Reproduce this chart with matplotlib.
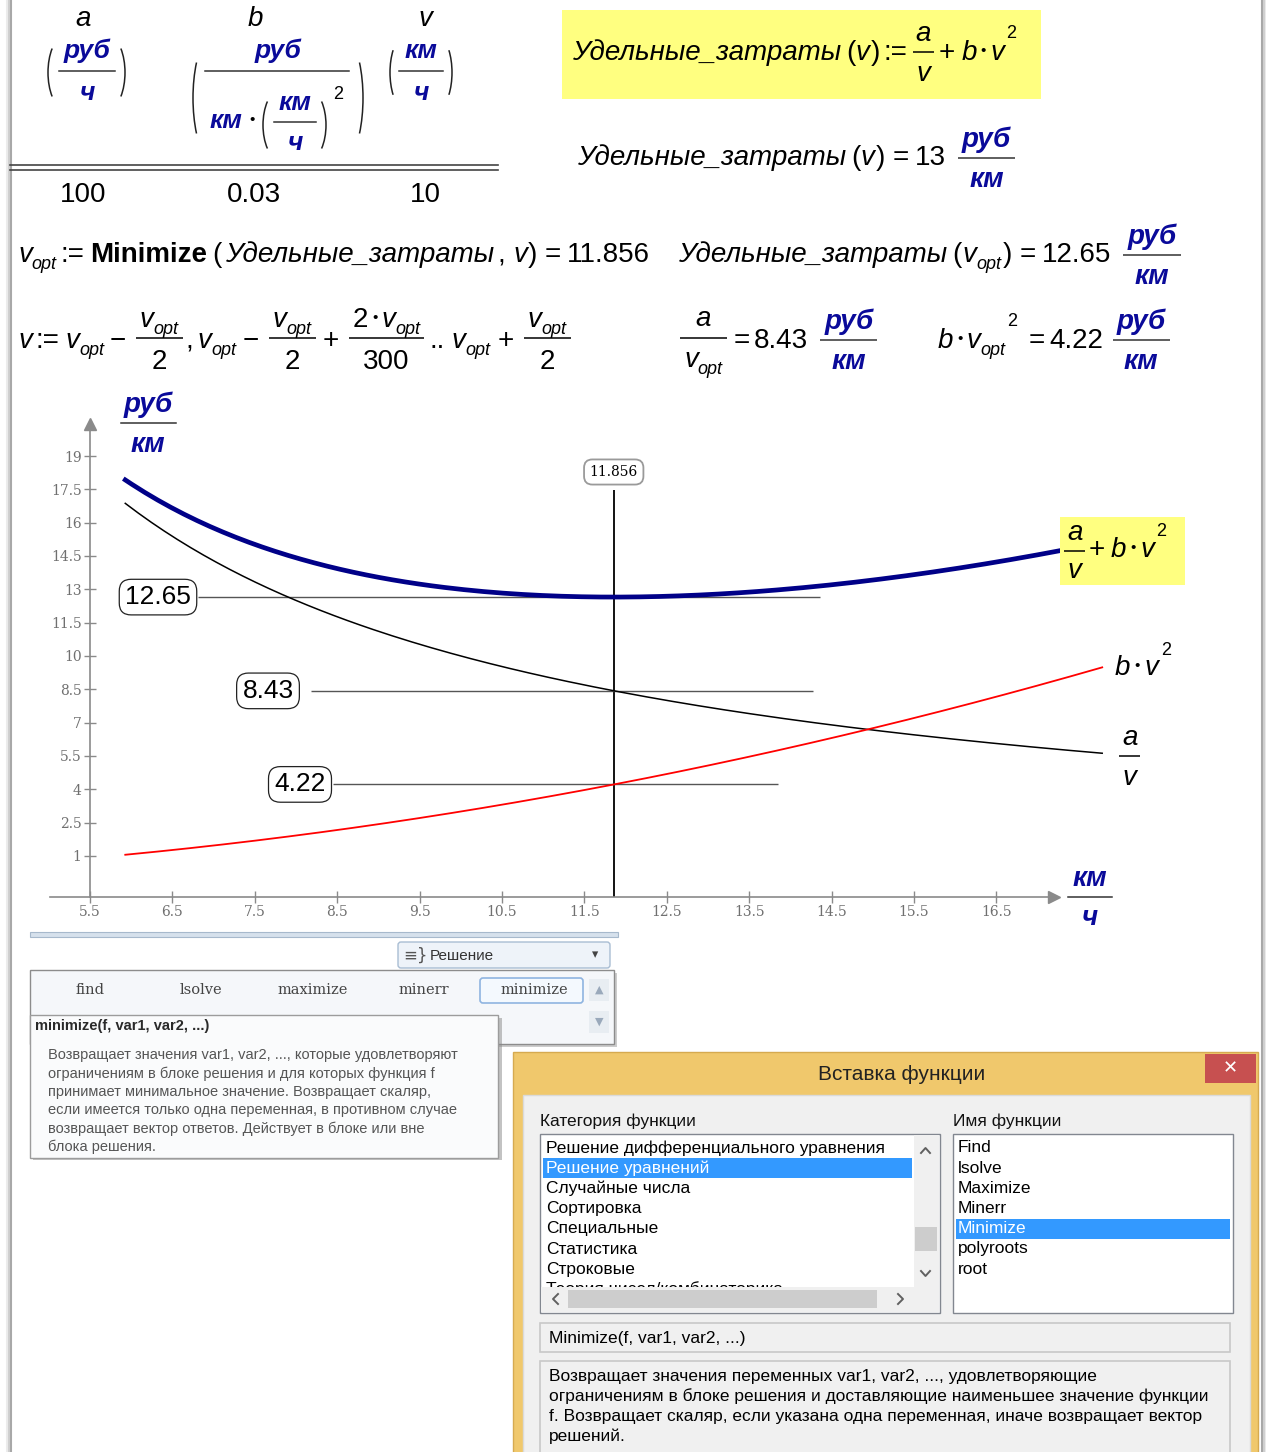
import numpy as np
import matplotlib
matplotlib.use('Agg')
import matplotlib.pyplot as plt
from matplotlib.patches import Rectangle, FancyBboxPatch, Arc

# values shown in the worksheet
a = 100            # руб/ч
b = 0.03           # руб/(км*(км/ч)^2)
v_start = 10       # км/ч
cost_start = 13
v_opt = 11.856
cost_opt = 12.65
fixed_part = 8.43  # a / v_opt
speed_part = 4.22  # b * v_opt^2
n_steps = 300

x_ticks = [5.5, 6.5, 7.5, 8.5, 9.5, 10.5, 11.5, 12.5, 13.5, 14.5, 15.5, 16.5]
y_ticks = [1, 2.5, 4, 5.5, 7, 8.5, 10, 11.5, 13, 14.5, 16, 17.5, 19]

ribbon_funcs = ['find', 'lsolve', 'maximize', 'minerr', 'minimize']
tip_title = 'minimize(f, var1, var2, ...)'
tip_lines = ['Возвращает значения var1, var2, ..., которые удовлетворяют',
             'ограничениям в блоке решения и для которых функция f',
             'принимает минимальное значение. Возвращает скаляр,',
             'если имеется только одна переменная, в противном случае',
             'возвращает вектор ответов. Действует в блоке или вне',
             'блока решения.']
categories = ['Решение дифференциального уравнения', 'Решение уравнений',
              'Случайные числа', 'Сортировка', 'Специальные', 'Статистика',
              'Строковые', 'Теория чисел/комбинаторика']
func_names = ['Find', 'lsolve', 'Maximize', 'Minerr', 'Minimize', 'polyroots', 'root']
func_sig = 'Minimize(f, var1, var2, ...)'
desc_lines = ['Возвращает значения переменных var1, var2, ..., удовлетворяющие',
              'ограничениям в блоке решения и доставляющие наименьшее значение функции',
              'f. Возвращает скаляр, если указана одна переменная, иначе возвращает вектор',
              'решений.']

# the range variable of the worksheet: v := v_opt - v_opt/2, ... step 2*v_opt/300 .. v_opt + v_opt/2
v = np.arange(v_opt - v_opt / 2, v_opt + v_opt / 2 + 1e-9, 2 * v_opt / n_steps)
part_a = a / v
part_b = b * v ** 2
total = part_a + part_b

W, H = 1266, 1452
SANS = 'Liberation Sans'
SERIF = 'DejaVu Serif'
M = 20      # main math size
S = 13      # sub/superscript size
U = 20      # unit size
BLUE = '#0a0a9a'

fig = plt.figure(figsize=(W / 100, H / 100), dpi=100)


def overlay():
    o = fig.add_axes([0, 0, 1, 1])
    o.set_xlim(0, W)
    o.set_ylim(H, 0)
    o.axis('off')
    o.patch.set_visible(False)
    return o


ov = overlay()
R = fig.canvas.get_renderer()


def sg(s, size=M, style='normal', weight='normal', color='black', dy=0, gap=0, family=SANS):
    return dict(s=s, size=size, style=style, weight=weight, color=color, dy=dy, gap=gap, family=family)


def it(s, gap=0):
    return sg(s, style='italic', gap=gap)


def rm(s, gap=0):
    return sg(s, gap=gap)


def sub(s):
    return sg(s, size=S, style='italic', dy=7)


def sup(s, dy=-21, gap=2):
    return sg(s, size=S, dy=dy, gap=gap)


def dot(gap=4):
    return sg('•', size=11, dy=-5, gap=gap)


def un(s):
    return sg(s, size=U, style='italic', weight='bold', color=BLUE)


def draw(x, y, segs, axx=None, zorder=3):
    axx = axx or ov
    objs = []
    for g in segs:
        x += g['gap']
        t = axx.text(x, y + g['dy'], g['s'], fontsize=g['size'], fontstyle=g['style'],
                     fontweight=g['weight'], color=g['color'], family=g['family'],
                     va='baseline', ha='left', zorder=zorder)
        objs.append(t)
        x = t.get_window_extent(R).x1
    return objs, x


def shift(objs, dx):
    for t in objs:
        t.set_x(t.get_position()[0] + dx)


def frac(x, yl, num, den, nb=11, db=31, pad=4, lw=1.1, color='black', gap=0, axx=None):
    axx = axx or ov
    x += gap
    on, wn = draw(0, yl - nb, num, axx)
    od, wd = draw(0, yl + db, den, axx)
    w = max(wn, wd) + 2 * pad
    shift(on, x + (w - wn) / 2)
    shift(od, x + (w - wd) / 2)
    axx.plot([x, x + w], [yl, yl], color=color, lw=lw, solid_capstyle='butt')
    return x + w


def unit(x, yl, gap=12):
    return frac(x, yl, [un('руб')], [un('км')], nb=11, db=29, pad=4, color='#333333', gap=gap)


def paren(x0, x1, y0, y1, side, lw=1.1):
    w = x1 - x0
    h = y1 - y0
    rx, ry = 2 * w, h / 1.732
    if side == 'l':
        ov.add_patch(Arc((x0 + rx, (y0 + y1) / 2), 2 * rx, 2 * ry, theta1=120, theta2=240, lw=lw, color='#222222'))
    else:
        ov.add_patch(Arc((x1 - rx, (y0 + y1) / 2), 2 * rx, 2 * ry, theta1=-60, theta2=60, lw=lw, color='#222222'))


def ctext(xc, y, s, size=U, axx=None):
    (axx or ov).text(xc, y, s, fontsize=size, fontstyle='italic', fontweight='bold', color=BLUE,
                     family=SANS, ha='center', va='baseline')


# page shadow
for xs, c in [(7, '#ececec'), (9, '#d0d0d0'), (11, '#a8a8a8')]:
    ov.plot([xs, xs], [0, H], color=c, lw=1.5)
for xs, c in [(1266, '#ececec'), (1264, '#d0d0d0'), (1262, '#a8a8a8')]:
    ov.plot([xs, xs], [0, H], color=c, lw=1.5)

# ---------------- table of a, b, v ----------------
for xc, s in [(83, 'a'), (255, 'b'), (425, 'v')]:
    ov.text(xc, 26, s, fontsize=M, fontstyle='italic', family=SANS, ha='center', va='baseline')
for xc, val in [(83, a), (254, b), (425, v_start)]:
    ov.text(xc, 202, f'{val:g}', fontsize=M, family=SANS, ha='center', va='baseline')
ov.plot([10, 498], [165, 165], color='#444444', lw=1.2)
ov.plot([10, 498], [169.5, 169.5], color='#444444', lw=1.2)

TU = 19
# a unit
paren(48, 57, 40, 105, 'l'); paren(116, 125, 40, 105, 'r')
ctext(87, 58, 'руб', TU); ov.plot([59, 115], [71, 71], color='#333333', lw=1.1); ctext(87, 100, 'ч', TU)
# b unit
paren(193, 205, 39, 157, 'l'); paren(351, 363, 39, 157, 'r')
ctext(278, 58, 'руб', TU); ov.plot([205, 349], [71, 71], color='#333333', lw=1.1)
ctext(226, 128, 'км', TU)
ov.text(252, 124, '•', fontsize=11, ha='center', va='baseline', family=SANS)
paren(263, 272, 94, 156, 'l'); paren(317, 326, 94, 156, 'r')
ctext(295, 110, 'км', TU); ov.plot([274, 316], [122, 122], color='#333333', lw=1.1); ctext(295, 150, 'ч', TU)
ov.text(333, 99, '2', fontsize=S, family=SANS, va='baseline')
# v unit
paren(390, 398, 40, 105, 'l'); paren(444, 452, 40, 105, 'r')
ctext(421, 58, 'км', TU); ov.plot([399, 443], [71, 71], color='#333333', lw=1.1); ctext(421, 100, 'ч', TU)

# ---------------- definition in yellow box ----------------
ov.add_patch(Rectangle((562, 10), 479, 89, fc='#ffff80', ec='none', zorder=1))
_, x = draw(572, 60, [it('Удельные_затраты'), rm('(', 5), it('v'), rm(')', 1), rm(':=', 4)])
x = frac(x, 52, [it('a')], [it('v')], nb=11, db=29, pad=3, gap=5)
_, x = draw(x, 60, [rm('+', 5), it('b', 6), dot(), it('v', 4), sup('2', dy=-22)])

# Удельные_затраты(v) = 13 руб/км
_, x = draw(577, 165, [it('Удельные_затраты'), rm('(', 5), it('v'), rm(')', 1), rm('=', 8), rm(f'{cost_start:g}', 6)])
unit(x, 158)

# row with Minimize
_, x = draw(18, 262, [it('v'), sub('opt'), rm(':=', 4), sg('Minimize', weight='bold', gap=5), rm('(', 5),
                      it('Удельные_затраты', 4), rm(',', 3), it('v', 8), rm(')', 1), rm('=', 7),
                      rm(f'{v_opt:.3f}', 6)])
_, x = draw(678, 262, [it('Удельные_затраты'), rm('(', 5), it('v', 1), sub('opt'), rm(')', 1), rm('=', 8),
                       rm(f'{cost_opt:.2f}', 6)])
unit(x, 255)

# range variable row
yb, yl = 348, 338
vo = [it('v'), sub('opt')]
_, x = draw(18, yb, [it('v'), rm(':=', 4), it('v', 6), sub('opt'), rm('−', 5)])
x = frac(x, yl, vo, [rm('2')], gap=10)
_, x = draw(x, yb, [rm(',', 3), it('v', 4), sub('opt'), rm('−', 6)])
x = frac(x, yl, vo, [rm('2')], gap=10)
_, x = draw(x, yb, [rm('+', 7)])
x = frac(x, yl, [rm('2'), dot(), it('v', 4), sub('opt')], [rm('300')], gap=10)
_, x = draw(x, yb, [rm('..', 5), it('v', 7), sub('opt'), rm('+', 7)])
x = frac(x, yl, vo, [rm('2')], gap=10)

x = frac(680, yl, [it('a')], [it('v'), sub('opt')], nb=12, db=29)
_, x = draw(x, yb, [rm('=', 7), rm(f'{fixed_part:.2f}', 4)])
unit(x, 340, gap=12)
_, x = draw(938, yb, [it('b'), dot(), it('v', 4), sub('opt'), sup('2', dy=-22, gap=1),
                      rm('=', 12), rm(f'{speed_part:.2f}', 4)])
unit(x, 340, gap=10)

# ---------------- plot ----------------
PX, PY = 82.4, 22.22


def fx(px):
    return 5.5 + (px - 90) / PX


def fy(py):
    return 19 + (456 - py) / PY


L, Rr, T, B = 40, 1112, 410, 897
ax = fig.add_axes([L / W, (H - B) / H, (Rr - L) / W, (B - T) / H])
ax.set_xlim(fx(L), fx(Rr))
ax.set_ylim(fy(B), fy(T))
ax.patch.set_visible(False)
gray = '#8a8a8a'
for s in ['top', 'right']:
    ax.spines[s].set_visible(False)
ax.spines['left'].set_position(('data', 5.5))
ax.spines['left'].set_bounds(fy(B), fy(422))
ax.spines['bottom'].set_bounds(fx(50), fx(1052))
for s in ['left', 'bottom']:
    ax.spines[s].set_color(gray)
    ax.spines[s].set_linewidth(1.2)
ax.set_xticks(x_ticks)
ax.set_xticklabels([f'{t:g}' for t in x_ticks])
ax.set_yticks(y_ticks)
ax.set_yticklabels([f'{t:g}' for t in y_ticks])
ax.tick_params(direction='inout', length=8, width=1, colors=gray, labelcolor='#707070',
               labelsize=10, pad=2)
for lab in ax.get_xticklabels() + ax.get_yticklabels():
    lab.set_family(SERIF)
ax.plot(5.5, fy(424), marker='^', ms=8, color=gray, clip_on=False)
ax.plot(fx(1054), fy(B), marker='>', ms=8, color=gray, clip_on=False)

ax.plot(v, total, color='#000088', lw=3.4, clip_on=False, zorder=4)
ax.plot(v, part_a, color='black', lw=1.1, clip_on=False, zorder=3)
ax.plot(v, part_b, color='#ff0000', lw=1.3, clip_on=False, zorder=3)

ax.vlines(v_opt, fy(B), fy(490), color='black', lw=1.3, zorder=2)
for val, x0, x1 in [(cost_opt, 198, 820), (fixed_part, 311, 813), (speed_part, 333, 778)]:
    ax.hlines(val, fx(x0), fx(x1), color='#555555', lw=1.0, zorder=2)
for val, xc in [(cost_opt, 158), (fixed_part, 268), (speed_part, 300)]:
    ax.text(fx(xc), val, f'{val:.2f}', fontsize=19, family=SANS, ha='center', va='center', zorder=5,
            bbox=dict(boxstyle='round,pad=0.22,rounding_size=0.45', fc='white', ec='#222222', lw=0.9))
ax.text(v_opt, fy(472), f'{v_opt:.3f}', fontsize=10, family=SERIF, ha='center', va='center', zorder=5,
        bbox=dict(boxstyle='round,pad=0.4,rounding_size=0.6', fc='white', ec='#9a9a9a', lw=1.3))

# axis units
ctext(148, 412, 'руб'); ov.plot([121, 176], [423, 423], color='#333333', lw=1.1); ctext(148, 452, 'км')
ctext(1090, 886, 'км'); ov.plot([1068, 1112], [897, 897], color='#333333', lw=1.1); ctext(1090, 925, 'ч')

# curve labels, drawn above the curves
top = overlay()
top.add_patch(Rectangle((1060, 517), 125, 68, fc='#ffff80', ec='none', zorder=1))
x = frac(1064, 551, [it('a')], [it('v')], nb=11, db=27, pad=3, axx=top)
draw(x, 557, [rm('+', 3), it('b', 6), dot(), it('v', 5), sup('2', dy=-21)], axx=top)
draw(1115, 675, [it('b'), dot(), it('v', 5), sup('2', dy=-20)], axx=top)
frac(1119, 756, [it('a')], [it('v')], nb=11, db=29, pad=3, axx=top)

# ---------------- ribbon panel ----------------
ov.add_patch(Rectangle((30, 932), 588, 5, fc='#d6e1ec', ec='#a7b9cc', lw=0.8, zorder=6))
ov.add_patch(FancyBboxPatch((398, 942), 212, 26, boxstyle='round,pad=0,rounding_size=3',
                            fc='#eef3f9', ec='#a9bdd3', lw=1.0, zorder=6))
ov.text(403, 956, '≡}', fontsize=12, family='DejaVu Sans', color='#555555', va='center', zorder=7)
ov.text(430, 956, 'Решение', fontsize=11, family=SANS, color='#333333', va='center', zorder=7)
ov.text(595, 955, '▾', fontsize=9, family='DejaVu Sans', color='#444444', va='center', ha='center', zorder=7)
ov.add_patch(Rectangle((33, 973), 584, 74, fc='#9a9a9a', ec='none', alpha=0.5, zorder=6))
ov.add_patch(Rectangle((30, 970), 584, 74, fc='#f5f7fa', ec='#8c8c8c', lw=1.0, zorder=6))
ov.add_patch(FancyBboxPatch((480, 978), 103, 25, boxstyle='round,pad=0,rounding_size=3',
                            fc='#f4f9fe', ec='#8fb4e0', lw=1.2, zorder=7))
for i, f in enumerate(ribbon_funcs):
    ov.text(90 + 111.2 * i, 990, f, fontsize=10.5, family=SERIF, color='#444444',
            ha='center', va='center', zorder=8)
ov.add_patch(Rectangle((589, 979), 20, 22, fc='#e8edf2', ec='none', zorder=7))
ov.add_patch(Rectangle((589, 1011), 20, 22, fc='#e8edf2', ec='none', zorder=7))
ov.text(599, 990, '▲', fontsize=8, family='DejaVu Sans', color='#9aa9bb', ha='center', va='center', zorder=8)
ov.text(599, 1022, '▼', fontsize=8, family='DejaVu Sans', color='#9aa9bb', ha='center', va='center', zorder=8)

# tooltip
ov.add_patch(Rectangle((33, 1018), 469, 142, fc='#888888', ec='none', alpha=0.5, zorder=9))
ov.add_patch(Rectangle((30, 1015), 468, 143, fc='#fafbfc', ec='#9c9c9c', lw=1.0, zorder=9))
ov.text(35, 1026, tip_title, fontsize=10.5, fontweight='bold', family=SANS, color='#2a2a2a',
        va='center', zorder=10)
for i, line in enumerate(tip_lines):
    ov.text(48, 1055 + 18.4 * i, line, fontsize=10.5, family=SANS, color='#555555', va='center', zorder=10)

# ---------------- insert function dialog ----------------
ov.add_patch(Rectangle((513, 1052), 745, 402, fc='#f0c86c', ec='#d6aa50', lw=1.0, zorder=11))
ov.add_patch(Rectangle((1205, 1054), 51, 29, fc='#c75050', ec='none', zorder=12))
ov.text(1230.5, 1068.5, '✕', fontsize=13, family='DejaVu Sans', color='white', ha='center', va='center', zorder=13)
ov.text(902, 1075, 'Вставка функции', fontsize=15, family=SANS, color='#222222', ha='center', va='center', zorder=12)
ov.add_patch(Rectangle((523, 1095), 727, 360, fc='#f0f0f0', ec='#dadada', lw=1.0, zorder=12))
ov.text(540, 1121, 'Категория функции', fontsize=12.5, family=SANS, color='#111111', va='center', zorder=13)
ov.text(953, 1121, 'Имя функции', fontsize=12.5, family=SANS, color='#111111', va='center', zorder=13)

# category list
ov.add_patch(Rectangle((540, 1134), 400, 179, fc='white', ec='#828790', lw=1.0, zorder=13))
ov.add_patch(Rectangle((543, 1158), 369, 20, fc='#3399ff', ec='none', zorder=14))
for i, c in enumerate(categories):
    ov.text(546, 1148 + 20.2 * i, c, fontsize=12.5, family=SANS, va='center', zorder=15,
            color='white' if i == 1 else 'black')
ov.add_patch(Rectangle((541, 1287), 398, 25, fc='#f0f0f0', ec='none', zorder=16))
ov.add_patch(Rectangle((568, 1290), 309, 18, fc='#cdcdcd', ec='none', zorder=17))
ov.add_patch(Rectangle((914, 1135), 25, 152, fc='#f0f0f0', ec='none', zorder=16))
ov.add_patch(Rectangle((915, 1227), 22, 24, fc='#cdcdcd', ec='none', zorder=17))
ov.plot([921, 925.5, 930], [1153, 1148, 1153], color='#606060', lw=1.4, zorder=18)
ov.plot([921, 925.5, 930], [1271, 1276, 1271], color='#606060', lw=1.4, zorder=18)
ov.plot([558, 553, 558], [1294, 1299, 1304], color='#606060', lw=1.4, zorder=18)
ov.plot([898, 903, 898], [1294, 1299, 1304], color='#606060', lw=1.4, zorder=18)

# function list
ov.add_patch(Rectangle((953, 1134), 280, 179, fc='white', ec='#828790', lw=1.0, zorder=13))
ov.add_patch(Rectangle((956, 1219), 274, 20, fc='#3399ff', ec='none', zorder=14))
for i, f in enumerate(func_names):
    ov.text(958, 1148 + 20.2 * i, f, fontsize=12.5, family=SANS, va='center', zorder=15,
            color='white' if i == 4 else 'black')

# signature and description
ov.add_patch(Rectangle((540, 1323), 690, 29, fc='#f0f0f0', ec='#c8c8c8', lw=1.2, zorder=13))
ov.text(549, 1338, func_sig, fontsize=12.5, family=SANS, va='center', zorder=14)
ov.add_patch(Rectangle((540, 1361), 690, 100, fc='#f0f0f0', ec='#c8c8c8', lw=1.2, zorder=13))
for i, line in enumerate(desc_lines):
    ov.text(549, 1376 + 20 * i, line, fontsize=12.5, family=SANS, va='center', zorder=14)

fig.savefig('out.png', dpi=100)
